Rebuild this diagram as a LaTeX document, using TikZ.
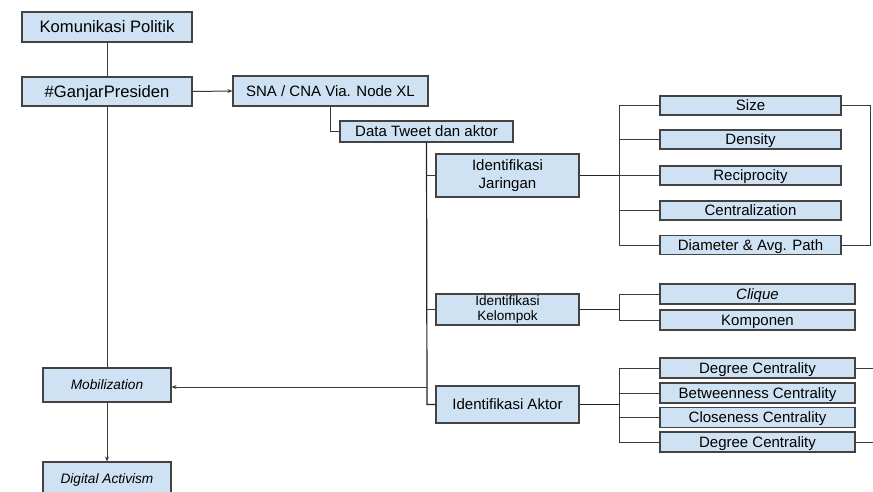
\documentclass[tikz,border=0pt]{standalone}
\usepackage{fontspec}
\setmainfont{Liberation Sans}
\usetikzlibrary{arrows.meta}
\definecolor{boxfill}{HTML}{CFE2F3}
\definecolor{boxline}{HTML}{434343}
\definecolor{conn}{HTML}{3A3A3A}
\begin{document}
\begin{tikzpicture}[x=1pt,y=-1pt,
  box/.style={draw=boxline,fill=boxfill,line width=1.1pt,rectangle,inner sep=0pt,align=center},
  big/.style={font=\fontsize{16.6}{19}\selectfont,text height=11.9pt,text depth=0pt},
  mid/.style={font=\fontsize{15}{17.5}\selectfont,text height=10.8pt,text depth=0pt},
  midtwo/.style={font=\fontsize{15}{17.5}\selectfont},
  sml/.style={font=\fontsize{13.7}{15.5}\selectfont,text height=9.8pt,text depth=0pt},
  ln/.style={draw=conn,line width=1pt},
  arr/.style={ln,-{Stealth[length=5pt,width=4pt]}}]
\clip (0,0) rectangle (873,492);
\fill[white] (0,0) rectangle (873,492);
% left column
\node[box,big,minimum width=170pt,minimum height=30pt] (kom) at (107,27) {Komunikasi Politik};
\node[box,big,minimum width=170pt,minimum height=29pt] (gan) at (107,91.5) {\#GanjarPresiden};
\node[box,sml,minimum width=128pt,minimum height=34pt] (mob) at (107,385) {\itshape Mobilization};
\node[box,sml,minimum width=128pt,minimum height=34pt] (dig) at (107,479) {\itshape Digital Activism};
% method
\node[box,mid,minimum width=195pt,minimum height=30pt] (sna) at (330.5,91) {SNA / CNA Via. Node XL};
\node[box,mid,minimum width=173pt,minimum height=21pt] (dt) at (426.5,131.5) {Data Tweet dan aktor};
% identification
\node[box,midtwo,minimum width=143pt,minimum height=43pt] (jar) at (507.5,175.5) {Identifikasi\\Jaringan};
\node[box,font=\fontsize{13.6}{15}\selectfont,minimum width=143pt,minimum height=31pt] (kel) at (507.5,309.5) {Identifikasi\\Kelompok};
\node[box,mid,minimum width=143pt,minimum height=37pt] (akt) at (507.5,404.5) {Identifikasi Aktor};
% network measures
\node[box,mid,minimum width=181pt,minimum height=19pt] (size) at (750.5,105.5) {Size};
\node[box,mid,minimum width=181pt,minimum height=19pt] (dens) at (750.5,139.5) {Density};
\node[box,mid,minimum width=181pt,minimum height=19pt] (reci) at (750.5,175.5) {Reciprocity};
\node[box,mid,minimum width=181pt,minimum height=19pt] (cent) at (750.5,210.5) {Centralization};
\node[box,mid,minimum width=181pt,minimum height=19pt] (diam) at (750.5,245) {Diameter \& Avg. Path};
% group
\node[box,mid,minimum width=195pt,minimum height=20pt] (cliq) at (757.5,294) {\itshape Clique};
\node[box,mid,minimum width=195pt,minimum height=20pt] (komp) at (757.5,320) {Komponen};
% actor
\node[box,mid,minimum width=195pt,minimum height=20pt] (deg1) at (757.5,368) {Degree Centrality};
\node[box,mid,minimum width=195pt,minimum height=20pt] (betw) at (757.5,393) {Betweenness Centrality};
\node[box,mid,minimum width=195pt,minimum height=20pt] (clos) at (757.5,417.5) {Closeness Centrality};
\node[box,mid,minimum width=195pt,minimum height=20pt] (deg2) at (757.5,442) {Degree Centrality};
% coordinates
\coordinate (trunkA) at (427,404.5);
\coordinate (jj) at (619,175.5);
\coordinate (kj) at (619,309.5);
\coordinate (aj) at (619,404.5);
\coordinate (rb) at (870,0);
\coordinate (s1) at (873,368);
\coordinate (s2) at (873,442);
% connectors
\draw[ln] (kom.south) -- (gan.north);
\draw[arr] (gan.east) -- (sna.west);
\draw[ln] (gan.south) -- (mob.north);
\draw[arr] (mob.south) -- (dig.north);
\draw[ln] (sna.south) |- (dt.west);
\draw[ln,line width=1.2pt,draw=black!85] (dt.south) -- (trunkA) -- (akt.west);
\draw[ln] (jar.west -| trunkA) -- (jar.west);
\draw[ln] (kel.west -| trunkA) -- (kel.west);
\draw[arr] (427,387) -- (mob.east |- 0,387);
% jaringan branches
\draw[ln,line width=1.2pt,draw=black!85] (jar.east) -- (jj);
\draw[ln] (size.west) -| (diam.west -| jj) -- (diam.west);
\draw[ln] (dens.west -| jj) -- (dens.west);
\draw[ln] (reci.west -| jj) -- (reci.west);
\draw[ln] (cent.west -| jj) -- (cent.west);
\draw[ln] (size.east) -- (size.east -| rb) -- (diam.east -| rb) -- (diam.east);
% kelompok branches
\draw[ln,line width=1.2pt,draw=black!85] (kel.east) -- (kj);
\draw[ln] (cliq.west) -| (komp.west -| kj) -- (komp.west);
% aktor branches
\draw[ln,line width=1.2pt,draw=black!85] (akt.east) -- (aj);
\draw[ln] (deg1.west) -| (deg2.west -| aj) -- (deg2.west);
\draw[ln] (betw.west -| aj) -- (betw.west);
\draw[ln] (clos.west -| aj) -- (clos.west);
\draw[ln] (deg1.east) -- (s1);
\draw[ln] (deg2.east) -- (s2);
\end{tikzpicture}
\end{document}
